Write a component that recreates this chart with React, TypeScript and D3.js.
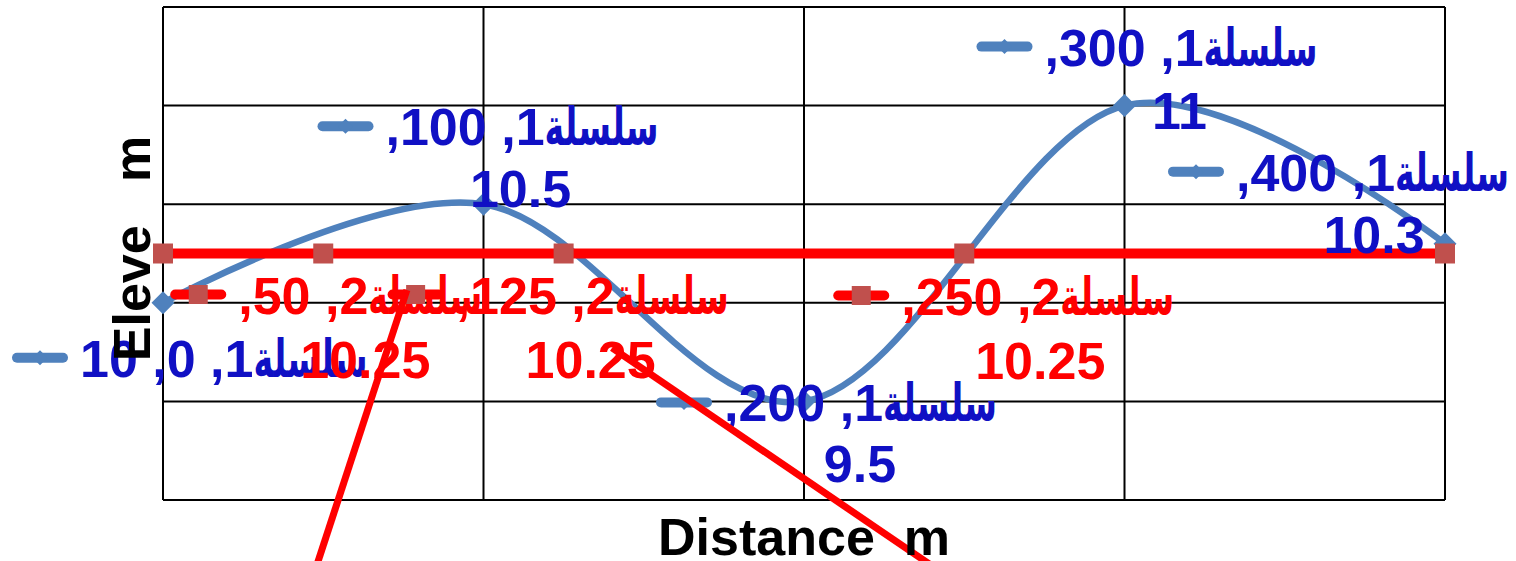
import React from 'react';
import * as d3 from 'd3';

// ---- data ----
const distance1 = [0, 100, 200, 300, 400];
const elevation1 = [10, 10.5, 9.5, 11, 10.3];
const distance2 = [0, 50, 125, 250, 400];
const elevation2 = [10.25, 10.25, 10.25, 10.25, 10.25];
const xTicks = [0, 100, 200, 300, 400];
const yTicks = [9, 9.5, 10, 10.5, 11, 11.5];
const seriesWord = 'سلسلة';
const seriesNumbers = ['1', '2'];
const xTitle = 'Distance  m';
const yTitle = 'Eleve   m';
const leaderA: [number, number][] = [[76.1, 10.065], [47.6, 8.65]];
const leaderB: [number, number][] = [[140.1, 9.771], [241.4, 8.65]];

// ---- layout (pixel offsets of data labels relative to their point) ----
const labelLayout = [
  { s: 0, i: 0, keyDx: -151, baseDy: 74, single: true, l2Dx: 0, l2Dy: 0 },
  { s: 0, i: 1, keyDx: -166, baseDy: -59, single: false, l2Dx: 37, l2Dy: 3 },
  { s: 0, i: 2, keyDx: -148, baseDy: 20, single: false, l2Dx: 56, l2Dy: 81 },
  { s: 0, i: 3, keyDx: -148, baseDy: -40, single: false, l2Dx: 55, l2Dy: 23 },
  { s: 0, i: 4, keyDx: -277, baseDy: -53, single: false, l2Dx: -71, l2Dy: 9 },
  { s: 1, i: 1, keyDx: -153, baseDy: 60, single: false, l2Dx: 42, l2Dy: 124 },
  { s: 1, i: 2, keyDx: -176, baseDy: 60, single: false, l2Dx: 27, l2Dy: 124 },
  { s: 1, i: 3, keyDx: -131, baseDy: 61, single: false, l2Dx: 76, l2Dy: 125 },
];

const W = 1516;
const H = 561;
const plot = { left: 163, right: 1445, top: 7, bottom: 500 };
const blue = '#4F81BD';
const labelBlue = '#1010C4';
const red = '#FF0000';
const markerRed = '#C0504D';
const font = '"Liberation Sans", Arial, "DejaVu Sans", sans-serif';
const fs = 52;
const arabicWidth = 114;

const charW: Record<string, number> = { ',': 0.278, ' ': 0.278, '.': 0.278 };
const measure = (s: string) =>
  s.split('').reduce((a, c) => a + (charW[c] !== undefined ? charW[c] : 0.556), 0) * fs;

export default function App() {
  const x = d3.scaleLinear().domain([0, 400]).range([plot.left, plot.right]);
  const y = d3.scaleLinear().domain([9, 11.5]).range([plot.bottom, plot.top]);

  const pts1 = distance1.map((d, i) => [x(d), y(elevation1[i])] as [number, number]);
  const pts2 = distance2.map((d, i) => [x(d), y(elevation2[i])] as [number, number]);
  const smooth = d3.line().curve(d3.curveCardinal.tension(0));
  const straight = d3.line();
  const leader = d3.line<[number, number]>().x((d) => x(d[0])).y((d) => y(d[1]));

  const diamond = (r: number) => `M0,${-r}L${r},0L0,${r}L${-r},0Z`;

  const renderKey = (s: number, kx: number, ky: number) => (
    <g>
      <line x1={kx + 5} x2={kx + 51} y1={ky} y2={ky}
        stroke={s === 0 ? blue : red} strokeWidth={10} strokeLinecap="round" />
      {s === 0 ? (
        <path d={diamond(7.5)} transform={`translate(${kx + 28},${ky})`} fill={blue} />
      ) : (
        <rect x={kx + 28 - 9.5} y={ky - 9.5} width={19} height={19} fill={markerRed} />
      )}
    </g>
  );

  return (
    <svg width={W} height={H} style={{ position: 'absolute', left: 0, top: 0, background: '#fff' }}
      fontFamily={font} fontWeight="bold">
      <rect x={0} y={0} width={W} height={H} fill="#fff" />
      {/* grid */}
      {yTicks.map((t) => (
        <line key={'gy' + t} x1={plot.left} x2={plot.right} y1={y(t)} y2={y(t)} stroke="#000" strokeWidth={2} />
      ))}
      {xTicks.map((t) => (
        <line key={'gx' + t} x1={x(t)} x2={x(t)} y1={plot.top} y2={plot.bottom} stroke="#000" strokeWidth={2} />
      ))}

      {/* series 1 */}
      <path d={smooth(pts1) || ''} fill="none" stroke={blue} strokeWidth={6.5} />
      {pts1.map((p, i) => (
        <path key={'d' + i} d={diamond(11.5)} transform={`translate(${p[0]},${p[1]})`} fill={blue} />
      ))}

      {/* series 2 */}
      <path d={straight(pts2) || ''} fill="none" stroke={red} strokeWidth={10} />
      {pts2.map((p, i) => (
        <rect key={'s' + i} x={p[0] - 10} y={p[1] - 10} width={20} height={20} fill={markerRed} />
      ))}

      {/* data labels */}
      {labelLayout.map((L, k) => {
        const xs = L.s === 0 ? distance1 : distance2;
        const ys = L.s === 0 ? elevation1 : elevation2;
        const px = x(xs[L.i]);
        const py = y(ys[L.i]);
        const color = L.s === 0 ? labelBlue : red;
        const kx = px + L.keyDx;
        const base = py + L.baseDy;
        const nums = L.single
          ? `${seriesNumbers[L.s]}, ${xs[L.i]}, ${ys[L.i]}`
          : `${seriesNumbers[L.s]}, ${xs[L.i]},`;
        const left = kx + 68;
        const nw = measure(nums);
        return (
          <g key={'lab' + k}>
            {renderKey(L.s, kx, base - 19)}
            <text x={left} y={base} direction="rtl" textAnchor="end" fontSize={fs} fill={color}
              style={{ unicodeBidi: 'embed' }}>
              {nums}
            </text>
            <text x={left + nw} y={base} fontSize={fs} fill={color}
              textLength={arabicWidth} lengthAdjust="spacingAndGlyphs">
              {seriesWord}
            </text>
            {!L.single && (
              <text x={px + L.l2Dx} y={py + L.l2Dy} textAnchor="middle" fontSize={fs} fill={color}>
                {`${ys[L.i]}`}
              </text>
            )}
          </g>
        );
      })}

      {/* leader lines */}
      <path d={leader(leaderA) || ''} stroke={red} strokeWidth={7} fill="none" />
      <path d={leader(leaderB) || ''} stroke={red} strokeWidth={7} fill="none" />

      {/* axis titles */}
      <text x={(plot.left + plot.right) / 2} y={555} textAnchor="middle" fontSize={fs} fill="#000"
        style={{ whiteSpace: 'pre' }}>
        {xTitle}
      </text>
      <text transform={`translate(150,${(plot.top + plot.bottom) / 2 - 5}) rotate(-90)`} textAnchor="middle"
        fontSize={fs} fill="#000" style={{ whiteSpace: 'pre' }}>
        {yTitle}
      </text>
    </svg>
  );
}
